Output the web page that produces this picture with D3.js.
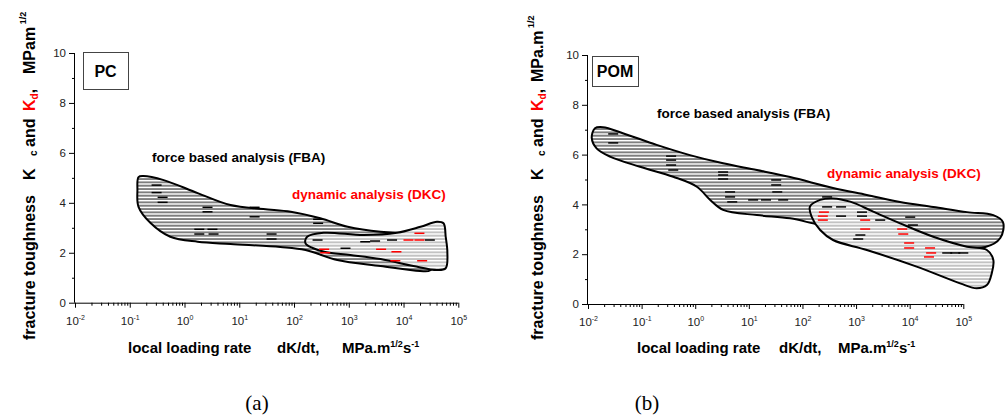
<!DOCTYPE html>
<html>
<head>
<meta charset="utf-8">
<script src="https://cdn.jsdelivr.net/npm/d3@7"></script>
<style>
  body { margin: 0; background: #fff; }
  svg { display: block; font-family: Arial, "Liberation Sans", sans-serif; }
</style>
</head>
<body>
<div id="chart"></div>
<script>
// decade exponents on the x axis (rate = 10^exp)
const xTickExps = [-2, -1, 0, 1, 2, 3, 4, 5];
const yMajorTicks = [0, 2, 4, 6, 8, 10];
const yMinorTicks = [1, 3, 5, 7, 9];

// outlines: [log10 rate, K]
const pcFbaOutline = [
  [-0.84, 5.03], [-0.75, 5.07], [-0.38, 4.91], [0.24, 4.39], [0.84, 3.91],
  [1.44, 3.75], [1.94, 3.64], [2.48, 3.38], [2.98, 3.04], [3.58, 2.84],
  [4.18, 2.78], [4.58, 2.67], [4.68, 2.11], [4.49, 1.30], [4.3, 1.27],
  [3.58, 1.47], [2.79, 1.71], [2.21, 2.11], [1.75, 2.23], [0.84, 2.35],
  [0.24, 2.44], [-0.26, 2.64], [-0.62, 3.19], [-0.84, 3.84], [-0.86, 4.51]
];
const pcDkcOutline = [
  [2.21, 2.38], [2.24, 2.64], [2.54, 2.80], [3.27, 2.71], [3.88, 2.80],
  [4.31, 3.04], [4.61, 3.24], [4.73, 3.18], [4.77, 2.64], [4.8, 2.04],
  [4.77, 1.38], [4.61, 1.31], [4.18, 1.47], [3.58, 1.75], [3.03, 1.91],
  [2.57, 2.03], [2.34, 2.19]
];
const pomFbaOutline = [
  [-1.87, 7.06], [-1.72, 7.10], [-1.35, 6.86], [-0.72, 6.39], [-0.1, 5.98],
  [0.52, 5.65], [1.15, 5.38], [1.77, 5.10], [2.57, 4.66], [3.2, 4.38],
  [3.82, 4.10], [4.44, 3.90], [5.07, 3.69], [5.56, 3.57], [5.74, 3.29],
  [5.69, 2.65], [5.41, 2.29], [4.57, 2.41], [3.45, 2.73], [2.33, 3.17],
  [1.77, 3.44], [1.15, 3.57], [0.52, 3.78], [0.28, 4.18], [0.03, 4.71],
  [-0.41, 5.11], [-1.03, 5.51], [-1.59, 5.92], [-1.84, 6.25], [-1.93, 6.67]
];
const pomDkcOutline = [
  [2.14, 3.91], [2.33, 4.18], [2.57, 4.24], [2.89, 4.11], [3.32, 3.71],
  [3.82, 3.24], [4.44, 2.70], [5.07, 2.30], [5.44, 2.17], [5.56, 1.77],
  [5.53, 1.23], [5.44, 0.76], [5.25, 0.63], [4.94, 0.83], [4.13, 1.50],
  [3.2, 2.17], [2.57, 2.57], [2.33, 2.97], [2.17, 3.51]
];

// measured points: [log10 rate, K]
const pcFbaPoints = [
  [-0.51, 4.71], [-0.51, 4.41], [-0.4, 4.22], [-0.4, 4.02], [0.42, 3.82],
  [0.42, 3.64], [0.27, 2.94], [0.51, 2.94], [0.27, 2.75], [0.53, 2.75],
  [1.28, 3.82], [1.28, 3.44], [1.59, 2.75], [1.59, 2.55], [2.44, 3.34],
  [2.44, 3.18], [2.43, 2.51], [2.94, 2.18], [3.3, 2.44], [3.48, 2.47],
  [3.79, 2.51], [4.48, 2.51]
];
const pcDkcPoints = [
  [2.55, 2.14], [2.57, 2.00], [3.59, 2.14], [3.87, 2.04], [4.09, 2.51],
  [4.29, 2.78], [4.29, 2.51], [4.34, 1.68], [3.85, 1.68]
];
const pomFbaPoints = [
  [-1.53, 6.83], [-1.53, 6.47], [-0.45, 5.94], [-0.45, 5.78], [-0.45, 5.58],
  [-0.41, 5.38], [0.52, 5.30], [0.52, 5.18], [0.52, 5.02], [0.65, 4.50],
  [0.65, 4.30], [0.69, 4.10], [1.08, 4.18], [1.32, 4.18], [1.51, 4.98],
  [1.51, 4.78], [1.53, 4.50], [1.64, 4.18], [2.46, 4.30], [2.46, 3.90],
  [2.72, 3.90], [2.72, 3.53], [3.11, 3.69], [3.11, 3.53], [3.08, 2.77],
  [3.04, 2.61], [3.45, 3.37], [4.01, 3.49], [4.06, 3.17], [4.7, 2.05],
  [4.85, 2.05], [5.0, 2.05]
];
const pomDkcPoints = [
  [2.4, 3.69], [2.38, 3.53], [2.38, 3.37], [3.17, 3.37], [3.17, 3.01],
  [3.86, 3.01], [3.88, 2.81], [3.99, 2.45], [3.99, 2.25], [4.38, 2.25],
  [4.4, 2.05], [4.36, 1.89]
];

const width = 1005, height = 416;
const svg = d3.select("#chart").append("svg")
  .attr("width", width)
  .attr("height", height);

//striped fills: gray with white horizontal lines
//10px tile holding 3 lines (~3.3px period on average)
const defs = svg.append("defs");
[["hatchDark", "#7f7f7f"], ["hatchLight", "#c3c3c3"]].forEach(([id, bg]) => {
  const p = defs.append("pattern")
    .attr("id", id)
    .attr("patternUnits", "userSpaceOnUse")
    .attr("width", 10)
    .attr("height", 10);
  p.append("rect").attr("width", 10).attr("height", 10).attr("fill", bg);
  [0, 3.3, 6.7].forEach((yy) => {
    p.append("rect").attr("y", yy).attr("width", 10).attr("height", 1.4).attr("fill", "#fff");
  });
});

const drawPanel = (cfg) => {
  const g = svg.append("g");
  const x = d3.scaleLog().domain([1e-2, 1e5]).range(cfg.xRange);
  const y = d3.scaleLinear().domain([0, 10]).range(cfg.yRange);
  const px = (d) => x(Math.pow(10, d[0]));
  const py = (d) => y(d[1]);

  const outline = d3.line().x(px).y(py).curve(d3.curveCatmullRomClosed.alpha(0.5));

  g.append("path")
    .attr("d", outline(cfg.fba))
    .attr("fill", "url(#hatchDark)")
    .attr("stroke", "#000")
    .attr("stroke-width", 2);

  g.append("path")
    .attr("d", outline(cfg.dkc))
    .attr("fill", "url(#hatchLight)")
    .attr("stroke", "#000")
    .attr("stroke-width", 2);

  //data marks drawn as short horizontal dashes
  const dash = (pts, color) => {
    g.append("g").selectAll("line")
      .data(pts)
      .enter()
      .append("line")
        .attr("x1", (d) => px(d) - 5)
        .attr("x2", (d) => px(d) + 5)
        .attr("y1", py)
        .attr("y2", py)
        .attr("stroke", color)
        .attr("stroke-width", 1.5);
  };
  dash(cfg.fbaPts, "#000");
  dash(cfg.dkcPts, "#ff0000");

  //x axis: minor ticks then decades
  const minor = [];
  xTickExps.slice(0, -1).forEach((e) => {
    for (let k = 2; k <= 9; k++) minor.push(k * Math.pow(10, e));
  });
  const y0 = cfg.yRange[0];
  g.append("g")
    .attr("transform", `translate(0, ${y0})`)
    .call(d3.axisBottom(x).tickValues(minor).tickSize(3).tickFormat(""))
    .call((a) => a.select(".domain").remove());
  const xAx = g.append("g")
    .attr("transform", `translate(0, ${y0})`)
    .call(d3.axisBottom(x).tickValues(xTickExps.map((e) => Math.pow(10, e))).tickSize(5).tickPadding(9));
  xAx.select(".domain").attr("d", `M${cfg.xRange[0]},0.5H${cfg.xRange[1]}`);
  xAx.selectAll("text")
    .attr("font-size", 11.5)
    .attr("fill", "#222")
    .each(function (d) {
      const t = d3.select(this);
      t.text(null);
      t.append("tspan").text("10");
      t.append("tspan").attr("dy", -5).attr("font-size", 7).text(Math.round(Math.log10(d)));
    });

  //y axis
  const x0 = cfg.xRange[0];
  g.append("g")
    .attr("transform", `translate(${x0}, 0)`)
    .call(d3.axisLeft(y).tickValues(yMinorTicks).tickSize(3).tickFormat(""))
    .call((a) => a.select(".domain").remove());
  const yAx = g.append("g")
    .attr("transform", `translate(${x0}, 0)`)
    .call(d3.axisLeft(y).tickValues(yMajorTicks).tickSize(6).tickPadding(3));
  yAx.select(".domain").attr("d", `M-0.5,${cfg.yRange[0]}V${cfg.yRange[1]}`);
  yAx.selectAll("text").attr("font-size", 11.5).attr("fill", "#222");

  //material label box
  g.append("rect")
    .attr("x", cfg.box[0] + 0.5).attr("y", cfg.box[1] + 0.5)
    .attr("width", cfg.box[2]).attr("height", cfg.box[3])
    .attr("fill", "#fff").attr("stroke", "#444");
  g.append("text")
    .attr("x", cfg.box[0] + cfg.box[2] / 2)
    .attr("y", cfg.box[1] + cfg.box[3] / 2 + 6)
    .attr("text-anchor", "middle")
    .attr("font-weight", "bold")
    .attr("font-size", 16)
    .text(cfg.name);

  //region labels
  g.append("text")
    .attr("x", cfg.fbaLabel[0]).attr("y", cfg.fbaLabel[1])
    .attr("font-weight", "bold").attr("font-size", 13.5)
    .text("force based analysis (FBA)");
  g.append("text")
    .attr("x", cfg.dkcLabel[0]).attr("y", cfg.dkcLabel[1])
    .attr("font-weight", "bold").attr("font-size", 13.5).attr("fill", "#ff0000")
    .text("dynamic analysis (DKC)");

  //x title
  const xt = g.append("text")
    .attr("y", 353)
    .attr("font-weight", "bold")
    .attr("font-size", 15);
  xt.append("tspan").attr("x", cfg.xTitle[0]).text("local loading rate");
  xt.append("tspan").attr("x", cfg.xTitle[1]).text("dK/dt,");
  xt.append("tspan").attr("x", cfg.xTitle[2]).text("MPa.m");
  xt.append("tspan").attr("dy", -6).attr("font-size", 9).text("1/2");
  xt.append("tspan").attr("dy", 6).text("s");
  xt.append("tspan").attr("dy", -6).attr("font-size", 9).text("-1");

  //y title, rotated
  const yt = g.append("text")
    .attr("transform", `translate(${cfg.yTitleX}, 340) rotate(-90)`)
    .attr("font-weight", "bold")
    .attr("font-size", 16)
    .style("white-space", "pre");
  yt.append("tspan").attr("x", 0).text("fracture toughness");
  yt.append("tspan").attr("x", 160).text("K");
  yt.append("tspan").attr("x", 184).attr("dy", 2).attr("font-size", 10).text("c");
  yt.append("tspan").attr("x", 193).attr("dy", -2).text("and");
  yt.append("tspan").attr("x", 229).attr("fill", "#ff0000").text("K");
  yt.append("tspan").attr("dy", 3).attr("font-size", 10).attr("fill", "#ff0000").text("d");
  yt.append("tspan").attr("dy", -3).text(",");
  yt.append("tspan").attr("x", cfg.yUnitX).text(cfg.yUnit);
  yt.append("tspan").attr("dy", -9).attr("font-size", 9).text(" 1/2");

  //panel caption
  svg.append("text")
    .attr("x", cfg.caption[0]).attr("y", cfg.caption[1])
    .attr("text-anchor", "middle")
    .attr("font-family", "'Liberation Serif', 'Times New Roman', serif")
    .attr("font-size", 21)
    .text(cfg.captionText);
};

drawPanel({
  name: "PC",
  xRange: [75, 458.3],
  yRange: [302.7, 53],
  fba: pcFbaOutline, dkc: pcDkcOutline,
  fbaPts: pcFbaPoints, dkcPts: pcDkcPoints,
  box: [83, 52, 45, 37],
  fbaLabel: [152, 162], dkcLabel: [292, 199],
  xTitle: [128, 277, 342],
  yTitleX: 35, yUnitX: 266, yUnit: "MPam",
  caption: [257, 410], captionText: "(a)"
});

drawPanel({
  name: "POM",
  xRange: [588, 963.3],
  yRange: [304, 55],
  fba: pomFbaOutline, dkc: pomDkcOutline,
  fbaPts: pomFbaPoints, dkcPts: pomDkcPoints,
  box: [592, 56, 46, 30],
  fbaLabel: [657, 118], dkcLabel: [827, 178],
  xTitle: [637, 779, 838],
  yTitleX: 543, yUnitX: 258, yUnit: "MPa.m",
  caption: [647, 410], captionText: "(b)"
});
</script>
</body>
</html>
